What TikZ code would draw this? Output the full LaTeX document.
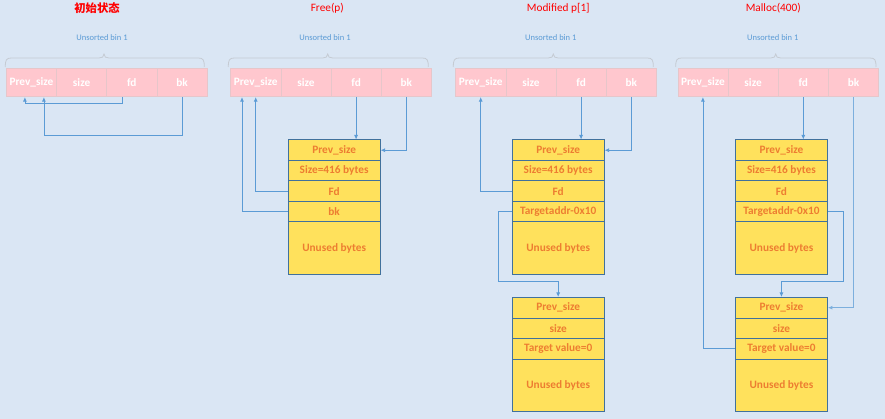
\documentclass[tikz,border=0pt]{standalone}
\usepackage{fontspec}
\setmainfont{Carlito}
\newfontfamily\cjk{Noto Sans CJK SC}
\usetikzlibrary{arrows.meta}
\definecolor{bg}{HTML}{DAE6F4}
\definecolor{pinkc}{HTML}{FFC7CE}
\definecolor{pinkb}{HTML}{E6C6CA}
\definecolor{yel}{HTML}{FFE15C}
\definecolor{yelb}{HTML}{41719C}
\definecolor{org}{HTML}{ED7D31}
\definecolor{arrc}{HTML}{5B9BD5}
\definecolor{brcol}{HTML}{C5CBD3}
\tikzset{
 bincell/.style={draw=pinkb, fill=pinkc, line width=0.6pt, minimum width=50.2pt, minimum height=28.5pt, inner sep=0, anchor=north west, text=white, font=\bfseries\fontsize{11.3}{13}\selectfont},
 chunkrow/.style={draw=yelb, fill=yel, line width=0.9pt, minimum width=92pt, minimum height=20.5pt, inner sep=0, anchor=north west, text=org, font=\bfseries\fontsize{11.3}{13}\selectfont},
 unused/.style={chunkrow, minimum height=52.5pt},
 ttl/.style={text=red, font=\fontsize{11.3}{13}\selectfont, inner sep=0},
 binlbl/.style={text=arrc, font=\fontsize{8.5}{10}\selectfont, inner sep=0},
 link/.style={draw=arrc, line width=0.8pt, -{Latex[length=4.5pt,width=4pt]}},
 bracestyle/.style={draw=brcol, line width=0.8pt}
}
\begin{document}
\begin{tikzpicture}[x=1pt,y=-1pt]
\fill[bg] (0,0) rectangle (885,419);
\useasboundingbox (0,0) rectangle (885,419);

% titles and labels
\node[ttl] (t1) at (97,8.5) {\cjk\bfseries 初始状态};
\node[ttl] (t2) at (327.3,8.5) {Free(p)};
\node[ttl] (t3) at (558.3,8.5) {Modified p[1]};
\node[ttl] (t4) at (773.3,8.5) {Malloc(400)};
\node[binlbl] (u1) at (102,37.7) {Unsorted bin 1};
\node[binlbl] (u2) at (325,37.7) {Unsorted bin 1};
\node[binlbl] (u3) at (550.8,37.7) {Unsorted bin 1};
\node[binlbl] (u4) at (772.8,37.7) {Unsorted bin 1};

% braces
\foreach \a/\m/\b in {5.3/104/204.3, 228.3/327.7/428.3, 453.3/553.3/653.3, 675.7/775.7/876}{
 \draw[bracestyle] (\a,67) .. controls (\a,60) and (\a+1,58) .. (\a+6,58) -- (\m-5,58) .. controls (\m-2,58) and (\m,57) .. (\m,54) .. controls (\m,57) and (\m+2,58) .. (\m+5,58) -- (\b-6,58) .. controls (\b-1,58) and (\b,60) .. (\b,67);
}

% bin rows
\foreach \p/\x in {1/6, 2/230.3, 3/455.3, 4/677.5}{
 \node[bincell] (p\p ps) at (\x,68) {Prev\_size};
 \node[bincell] (p\p sz) at (\x+50.2,68) {size};
 \node[bincell] (p\p fd) at (\x+100.4,68) {fd};
 \node[bincell] (p\p bk) at (\x+150.6,68) {bk};
}

% chunk panel 2
\node[chunkrow] (c2a) at (287.7,139.5) {Prev\_size};
\node[chunkrow] (c2b) at (287.7,160) {Size=416 bytes};
\node[chunkrow] (c2c) at (287.7,180.5) {Fd};
\node[chunkrow] (c2d) at (287.7,201) {bk};
\node[unused] (c2e) at (287.7,221.5) {Unused bytes};

% chunk panel 3
\node[chunkrow] (c3a) at (511.7,139.5) {Prev\_size};
\node[chunkrow] (c3b) at (511.7,160) {Size=416 bytes};
\node[chunkrow] (c3c) at (511.7,180.5) {Fd};
\node[chunkrow] (c3d) at (511.7,201) {Targetaddr-0x10};
\node[unused] (c3e) at (511.7,221.5) {Unused bytes};
\node[chunkrow] (d3a) at (511.7,297) {Prev\_size};
\node[chunkrow] (d3b) at (511.7,317.5) {size};
\node[chunkrow] (d3c) at (511.7,338) {Target value=0};
\node[unused] (d3d) at (511.7,358.5) {Unused bytes};

% chunk panel 4
\node[chunkrow] (c4a) at (735,139.5) {Prev\_size};
\node[chunkrow] (c4b) at (735,160) {Size=416 bytes};
\node[chunkrow] (c4c) at (735,180.5) {Fd};
\node[chunkrow] (c4d) at (735,201) {Targetaddr-0x10};
\node[unused] (c4e) at (735,221.5) {Unused bytes};
\node[chunkrow] (d4a) at (735,297) {Prev\_size};
\node[chunkrow] (d4b) at (735,317.5) {size};
\node[chunkrow] (d4c) at (735,338) {Target value=0};
\node[unused] (d4d) at (735,358.5) {Unused bytes};

% panel 1 links
\draw[link] ([xshift=-9.5pt]p1fd.south) -- ++(0,6.5) -| ([xshift=-6.5pt]p1ps.south);
\draw[link] (p1bk.south) -- ++(0,38.5) -| ([xshift=12.5pt]p1ps.south);

% panel 2 links
\draw[link] (p2fd.south) -- (p2fd.south |- c2a.north);
\draw[link] (p2bk.south) |- (c2a.east);
\draw[link] (c2c.west) -| (p2ps.south);
\draw[link] (c2d.west) -| ([xshift=-13.7pt]p2ps.south);

% panel 3 links
\draw[link] (p3fd.south) -- (p3fd.south |- c3a.north);
\draw[link] (p3bk.south) |- (c3a.east);
\draw[link] (c3c.west) -| (p3ps.south);
\draw[link] (c3d.west) -- ++(-13.4,0) -- ++(0,69.75) -| (d3a.north);

% panel 4 links
\draw[link] (p4fd.south) -- (p4fd.south |- c4a.north);
\draw[link, line width=1.4pt, draw=arrc!80] (p4bk.south) |- (d4a.east);
\draw[link] (d4c.west) -| (p4ps.south);
\draw[link] (c4d.east) -- ++(15.7,0) -- ++(0,69.75) -| (d4a.north);
\end{tikzpicture}
\end{document}
